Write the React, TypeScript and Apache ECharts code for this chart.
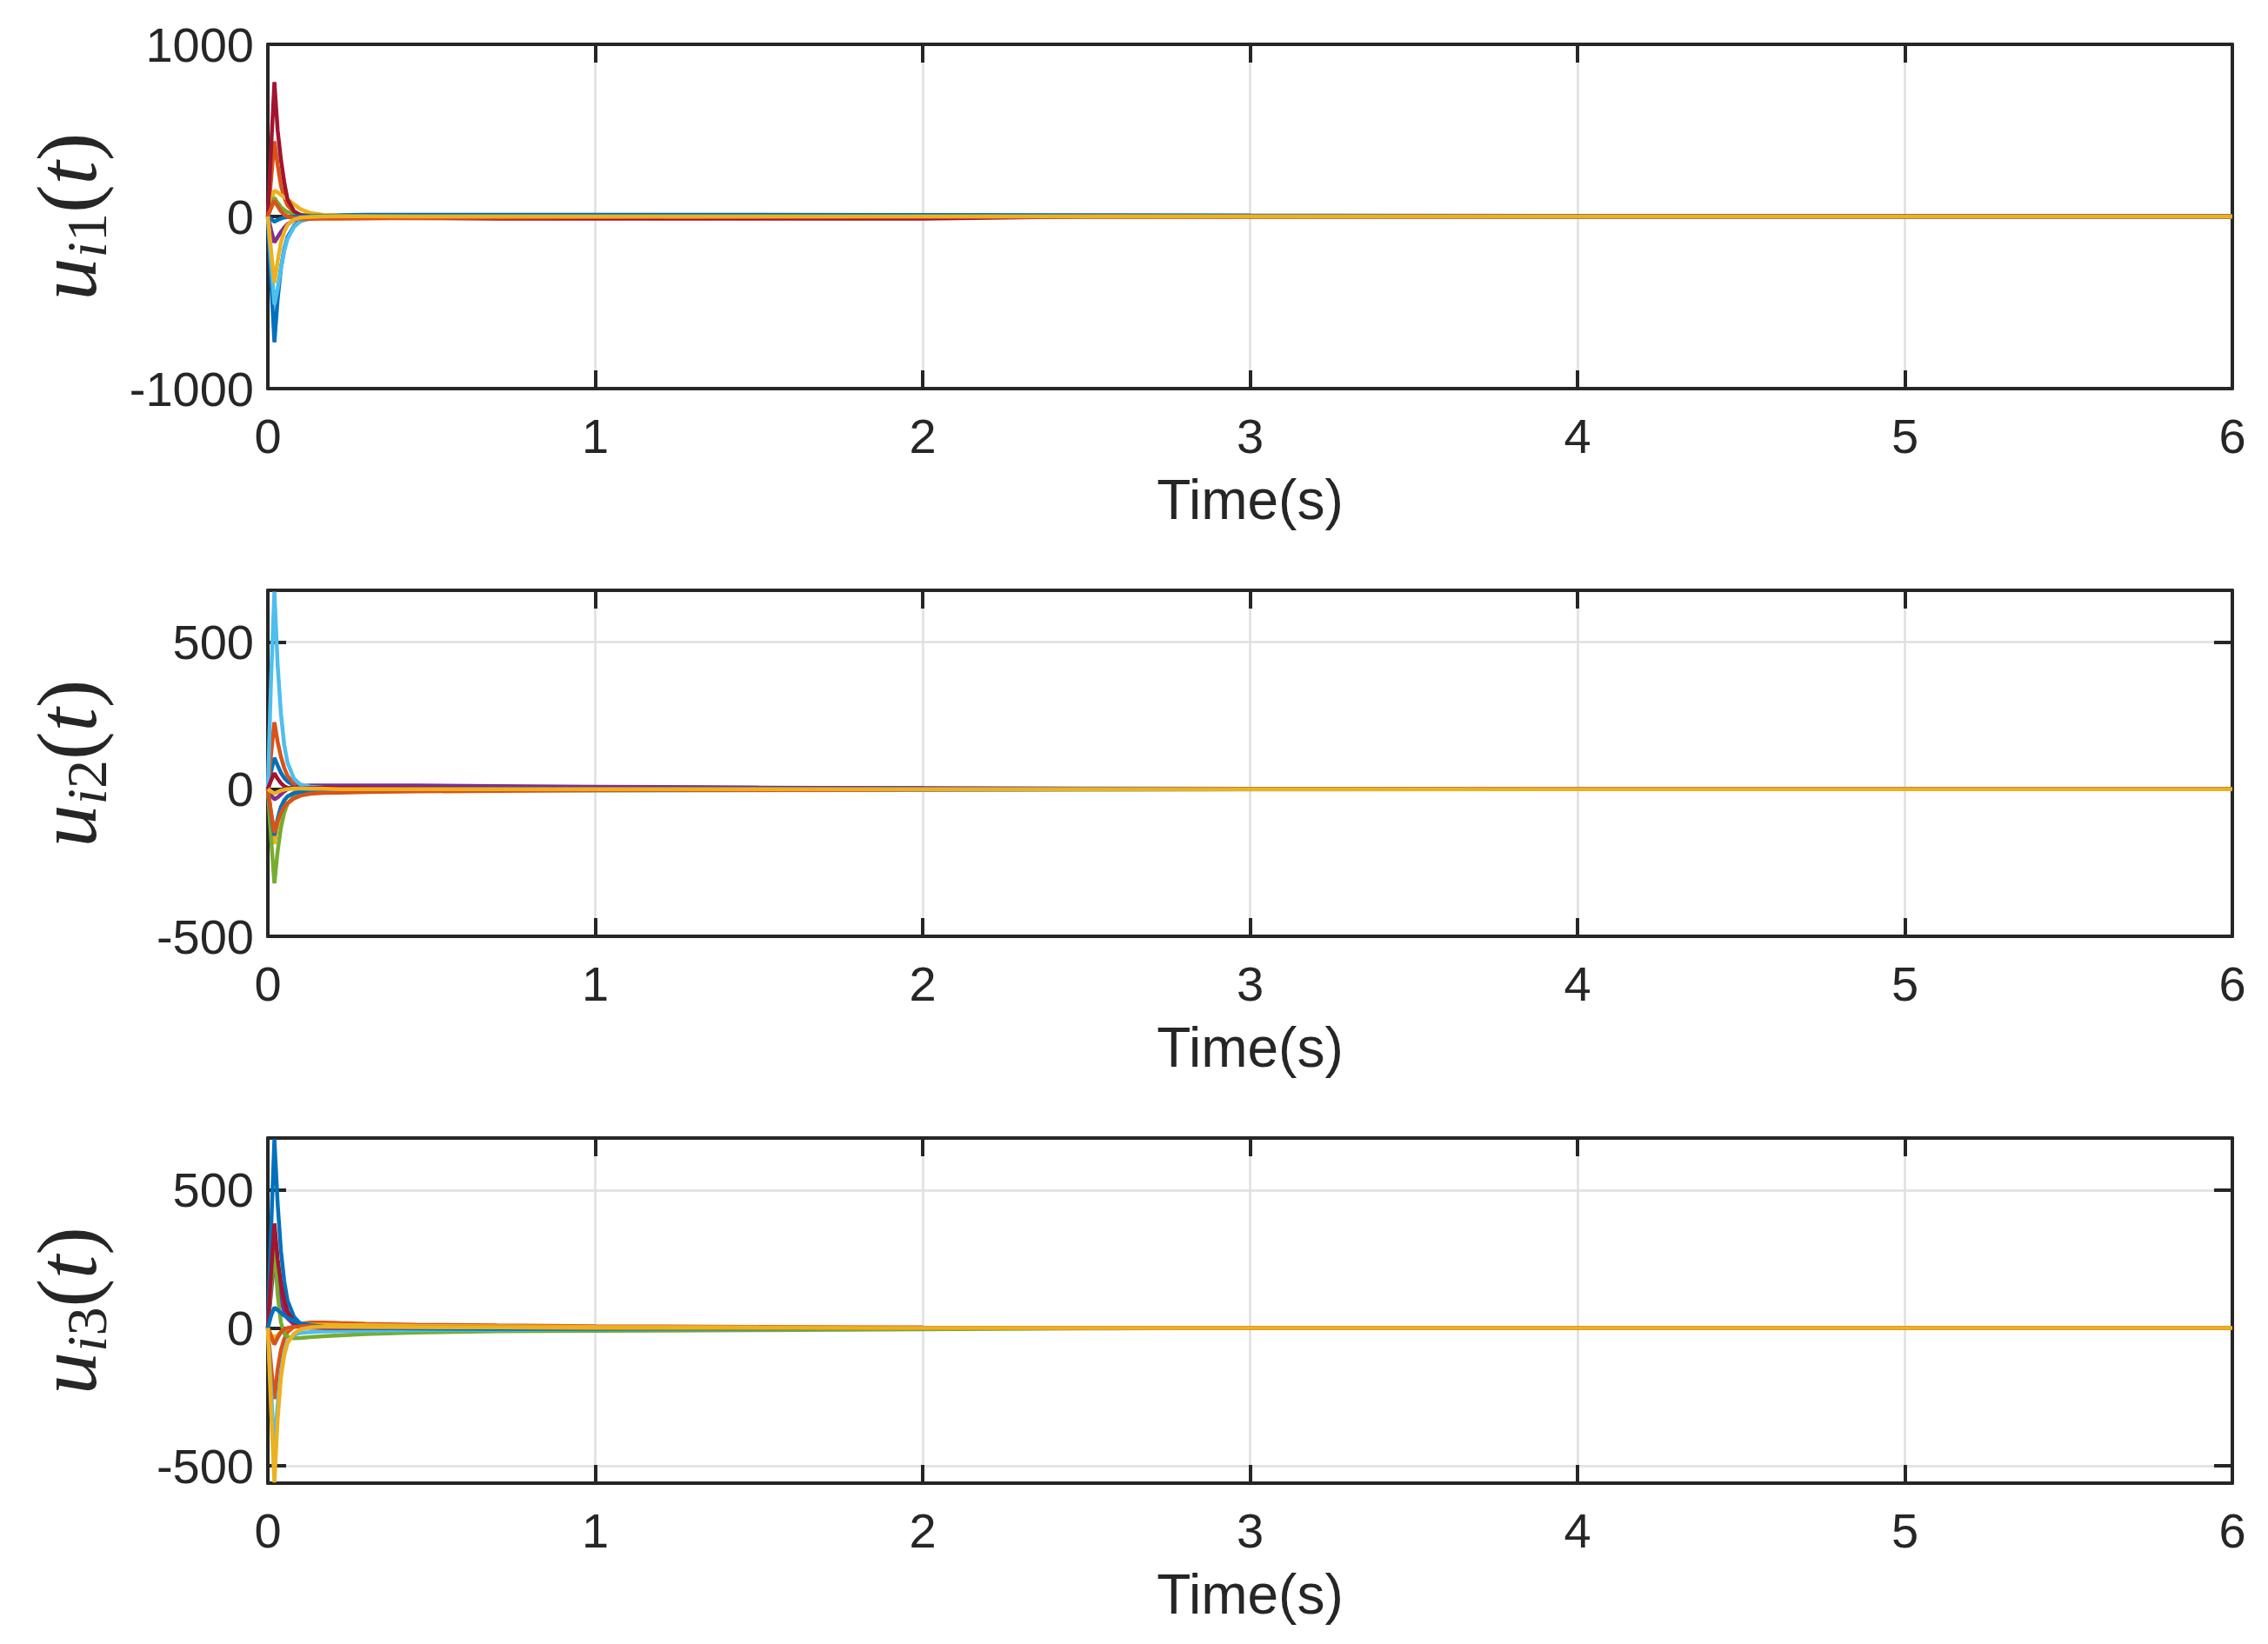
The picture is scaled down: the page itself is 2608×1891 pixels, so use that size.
import React, { useEffect, useRef } from "react";
import * as echarts from "echarts";

// time samples (s)
const timeS = [0, 0.01, 0.02, 0.03, 0.04, 0.05, 0.06, 0.08, 0.1, 0.13, 0.17, 0.22, 0.3, 0.45, 0.7, 1.0, 1.5, 2.0, 2.5, 3, 4, 5, 6];

const xTicks = [0, 1, 2, 3, 4, 5, 6];
const colors = ["#0072BD", "#D95319", "#EDB120", "#7E2F8E", "#77AC30", "#4DBEEE", "#A2142F", "#0072BD", "#D95319", "#EDB120"];

// u_i1(t)
const u1Values: number[][] = [
  [0, -380, -731, -480, -300, -190, -120, -55, -25, -5, 4, 8, 10, 10, 10, 10, 10, 9, 8, 6, 4, 3, 2],
  [0, 220, 437, 300, 180, 110, 65, 25, 10, 4, 2, 1, 0, 0, -2, -3, -4, -4, -3, -2, -1, 0, 0],
  [0, 90, 151, 140, 125, 112, 100, 70, 42, 20, 9, 5, 3, 2, 1, 0, 0, 0, 0, 0, 0, 0, 0],
  [0, -80, -151, -120, -90, -65, -45, -22, -10, -4, -2, -1, 0, 0, 0, 0, 0, 0, 0, 0, 0, 0, 0],
  [0, 60, 109, 80, 55, 38, 26, 14, 9, 6, 5, 4, 3, 2, 1, 0, 0, 0, 0, 0, 0, 0, 0],
  [0, -260, -512, -420, -300, -200, -130, -60, -28, -12, -6, -3, -1, 0, 0, 0, 0, 0, 0, 0, 0, 0, 0],
  [0, 400, 781, 500, 330, 200, 100, 30, 8, 0, -4, -6, -8, -10, -12, -12, -12, -12, 0, 0, 0, 0, 0],
  [0, -15, -30, -20, -12, -6, -3, -1, 0, 1, 2, 3, 4, 5, 6, 6, 5, 3, 2, 1, 0, 0, 0],
  [0, 50, 92, 60, 30, 10, 0, -10, -15, -14, -13, -12, -11, -9, -6, -4, -2, -1, 0, 0, 0, 0, 0],
  [0, -200, -386, -260, -150, -90, -50, -18, -6, -2, 0, 1, 1, 0, 0, 0, 0, 0, 0, 0, 0, 0, 0],
];

// u_i2(t)
const u2Values: number[][] = [
  [0, 60, 106, 80, 55, 38, 26, 12, 6, 4, 3, 3, 4, 5, 6, 6, 5, 3, 2, 1, 0, 0, 0],
  [0, 120, 227, 160, 110, 72, 45, 18, 8, 3, 1, 0, 0, 0, 0, 0, 0, 0, 0, 0, 0, 0, 0],
  [0, -100, -187, -120, -70, -40, -25, -12, -6, -3, -2, -1, 0, 0, 0, 0, 0, 0, 0, 0, 0, 0, 0],
  [0, -20, -35, -28, -18, -8, 0, 6, 10, 12, 12, 12, 12, 12, 10, 8, 5, 3, 1, 0, 0, 0, 0],
  [0, -170, -320, -210, -130, -80, -50, -25, -15, -10, -7, -5, -3, -2, -1, 0, 0, 0, 0, 0, 0, 0, 0],
  [0, 380, 670, 420, 256, 150, 90, 35, 15, 8, 5, 2, 0, -2, -4, -5, -4, -3, -2, -1, 0, 0, 0],
  [0, 30, 54, 35, 20, 10, 5, 2, 2, 3, 4, 4, 3, 2, 1, 0, 0, 0, 0, 0, 0, 0, 0],
  [0, -85, -158, -100, -60, -38, -25, -14, -9, -6, -4, -3, -2, -1, 0, 0, 0, 0, 0, 0, 0, 0, 0],
  [0, -80, -148, -110, -80, -60, -48, -32, -22, -16, -13, -12, -10, -8, -6, -4, -3, -2, -1, 0, 0, 0, 0],
  [0, -8, -15, -10, -5, -2, 0, 2, 2, 1, 1, 0, 0, 0, 0, 0, 0, 0, 0, 0, 0, 0, 0],
];

// u_i3(t)
const u3Values: number[][] = [
  [0, 360, 685, 450, 280, 170, 100, 40, 15, 5, 2, 0, -1, -2, -3, -3, -2, -1, 0, 0, 0, 0, 0],
  [0, -140, -258, -150, -80, -40, -15, 5, 15, 20, 20, 18, 15, 12, 9, 6, 4, 2, 1, 0, 0, 0, 0],
  [0, -25, -35, -25, -15, -8, -2, 5, 10, 12, 12, 11, 10, 8, 6, 4, 2, 1, 0, 0, 0, 0, 0],
  [0, 130, 247, 160, 100, 60, 35, 12, 4, 1, 0, 0, 0, -1, -1, 0, 0, 0, 0, 0, 0, 0, 0],
  [0, 160, 300, 120, 20, -20, -32, -37, -36, -33, -30, -27, -22, -17, -12, -10, -8, -5, -2, 0, 0, 0, 0],
  [0, -230, -437, -280, -160, -90, -50, -25, -18, -15, -13, -12, -10, -8, -6, -4, -2, -1, 0, 0, 0, 0, 0],
  [0, 200, 379, 250, 160, 100, 60, 22, 8, 3, 1, 0, 0, 0, 0, 0, 0, 0, 0, 0, 0, 0, 0],
  [0, 45, 74, 65, 55, 45, 37, 25, 17, 10, 5, 2, 0, -2, -3, -3, -2, -1, 0, 0, 0, 0, 0],
  [0, -30, -60, -35, -15, -5, 0, 4, 6, 6, 5, 4, 3, 2, 2, 1, 1, 0, 0, 0, 0, 0, 0],
  [0, -300, -560, -330, -180, -100, -55, -20, -5, 2, 5, 5, 4, 3, 2, 1, 1, 0, 0, 0, 0, 0, 0],
];

const yTicks1 = [-1000, 0, 1000];
const yTicks2 = [-500, 0, 500];
const yTicks3 = [-500, 0, 500];
const yRanges = [
  [-1000, 1000],
  [-500, 675],
  [-563, 689],
];
const ySubs = ["1", "2", "3"];

const INK = "#262626";
const GRIDC = "#DFDFDF";
const SANS = "Liberation Sans, Arial, Helvetica, sans-serif";
const SERIF = "Liberation Serif, Times New Roman, serif";

export default function App() {
  const ref = useRef<HTMLDivElement>(null);
  useEffect(() => {
    if (!ref.current) return;
    const chart = echarts.init(ref.current, undefined, { renderer: "svg" });
    const panels = [u1Values, u2Values, u3Values];
    const yTickSets = [yTicks1, yTicks2, yTicks3];
    const grids = [
      { left: 308, top: 51, width: 2259, height: 396 },
      { left: 308, top: 679, width: 2259, height: 398 },
      { left: 308, top: 1309, width: 2259, height: 397 },
    ];
    const xAxes: any[] = [];
    const yAxes: any[] = [];
    const series: any[] = [];
    panels.forEach((vals, p) => {
      const baseX = {
        type: "value",
        gridIndex: p,
        min: xTicks[0],
        max: xTicks[xTicks.length - 1],
        interval: 1,
        axisLine: { show: true, onZero: false, lineStyle: { color: INK, width: 4 } },
        axisTick: { show: true, inside: true, length: 21, lineStyle: { color: INK, width: 4 } },
      };
      xAxes.push({
        ...baseX,
        position: "bottom",
        axisLabel: { show: true, color: INK, fontSize: 56, fontFamily: SANS, margin: 26, formatter: (v: number) => String(v) },
        splitLine: { show: true, lineStyle: { color: GRIDC, width: 2.5 } },
        name: "Time(s)",
        nameLocation: "middle",
        nameGap: 96,
        nameTextStyle: { color: INK, fontSize: 64, fontFamily: SANS },
      });
      xAxes.push({
        ...baseX,
        position: "top",
        axisLabel: { show: false },
        splitLine: { show: false },
      });
      const [mn, mx] = yRanges[p];
      const ticks = yTickSets[p];
      const baseY = {
        type: "value",
        gridIndex: p,
        min: mn,
        max: mx,
        axisLine: { show: true, onZero: false, lineStyle: { color: INK, width: 4 } },
        axisTick: { show: true, inside: true, length: 21, customValues: ticks, lineStyle: { color: INK, width: 4 } },
      };
      yAxes.push({
        ...baseY,
        position: "left",
        axisLabel: {
          show: true,
          customValues: ticks,
          color: INK,
          fontSize: 56,
          fontFamily: SANS,
          margin: 16,
          formatter: (v: number) => String(v),
        },
        splitLine: { show: true, lineStyle: { color: GRIDC, width: 2.5 } },
        name: `{u|u}{s|i}{n|${ySubs[p]}}{p|(}{t|t}{p|)}`,
        nameLocation: "middle",
        nameGap: 176,
        nameTextStyle: {
          color: INK,
          rich: {
            u: { fontFamily: SERIF, fontStyle: "italic", fontSize: 98, lineHeight: 110, color: INK },
            s: { fontFamily: SERIF, fontStyle: "italic", fontSize: 66, lineHeight: 72, verticalAlign: "bottom", color: INK },
            n: { fontFamily: SERIF, fontSize: 66, lineHeight: 72, verticalAlign: "bottom", color: INK },
            p: { fontFamily: SERIF, fontSize: 98, lineHeight: 110, color: INK },
            t: { fontFamily: SERIF, fontStyle: "italic", fontSize: 98, lineHeight: 110, color: INK },
          },
        },
      });
      yAxes.push({
        ...baseY,
        position: "right",
        axisLabel: { show: false },
        splitLine: { show: false },
      });
      vals.forEach((arr, k) => {
        series.push({
          type: "line",
          xAxisIndex: p * 2,
          yAxisIndex: p * 2,
          data: timeS.map((t, i) => [t, arr[i]]),
          showSymbol: false,
          symbol: "none",
          lineStyle: { color: colors[k % colors.length], width: 4.5 },
          itemStyle: { color: colors[k % colors.length] },
          silent: true,
          clip: true,
        });
      });
    });
    chart.setOption({
      animation: false,
      backgroundColor: "#ffffff",
      grid: grids,
      xAxis: xAxes,
      yAxis: yAxes,
      series,
    });
    return () => chart.dispose();
  }, []);
  return (
    <div
      ref={ref}
      style={{ position: "absolute", left: 0, top: 0, width: 2608, height: 1891, background: "#fff" }}
    />
  );
}
